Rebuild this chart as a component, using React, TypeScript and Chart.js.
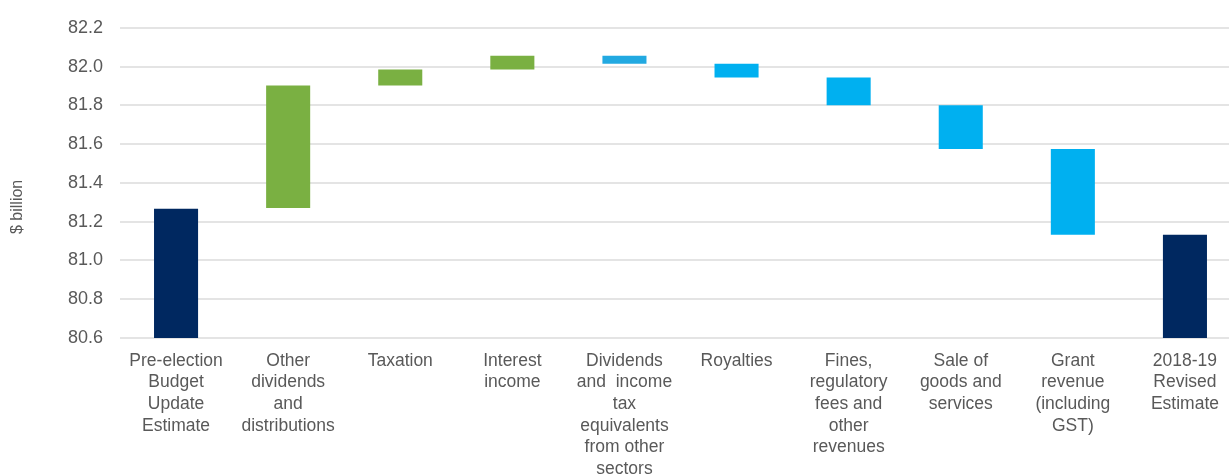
import React, { useEffect, useRef } from "react";
import { Chart, registerables } from "chart.js";

Chart.register(...registerables);

const categories: string[][] = [
  ["Pre-election", "Budget", "Update", "Estimate"],
  ["Other", "dividends", "and", "distributions"],
  ["Taxation"],
  ["Interest", "income"],
  ["Dividends", "and  income", "tax", "equivalents", "from other", "sectors"],
  ["Royalties"],
  ["Fines,", "regulatory", "fees and", "other", "revenues"],
  ["Sale of", "goods and", "services"],
  ["Grant", "revenue", "(including", "GST)"],
  ["2018-19", "Revised", "Estimate"],
];

const barStart = [80.6, 81.27, 81.903, 81.985, 82.056, 82.015, 81.944, 81.8, 81.575, 80.6];
const barEnd = [81.267, 81.903, 81.985, 82.056, 82.015, 81.944, 81.8, 81.575, 81.133, 81.133];
const barColors = [
  "#002860", "#7ab042", "#7ab042", "#7ab042", "#22a9e1",
  "#00b0f0", "#00b0f0", "#00b0f0", "#00b0f0", "#002860",
];

const yMin = 80.6;
const yMax = 82.2;
const yStep = 0.2;
const yTitle = "$ billion";

const FONT = "'Liberation Sans', Arial, sans-serif";

const yTitlePlugin = {
  id: "yTitlePlugin",
  afterDraw(chart: any) {
    const ctx = chart.ctx;
    const area = chart.chartArea;
    ctx.save();
    ctx.translate(18, (area.top + area.bottom) / 2 + 24);
    ctx.rotate(-Math.PI / 2);
    ctx.font = `16px ${FONT}`;
    ctx.fillStyle = "#595959";
    ctx.textAlign = "center";
    ctx.textBaseline = "middle";
    ctx.fillText(yTitle, 0, 0);
    ctx.restore();
  },
};

export default function App() {
  const ref = useRef<HTMLCanvasElement | null>(null);

  useEffect(() => {
    if (!ref.current) return;
    const data = barStart.map((s, i) => [s, barEnd[i]]);
    const chart = new Chart(ref.current, {
      type: "bar",
      data: {
        labels: categories,
        datasets: [
          {
            data: data as any,
            backgroundColor: barColors,
            borderWidth: 0,
            barPercentage: 1,
            categoryPercentage: 0.393,
          },
        ],
      },
      options: {
        animation: false,
        responsive: false,
        maintainAspectRatio: false,
        layout: { padding: { top: 25, right: 9, left: 0, bottom: 0 } },
        plugins: {
          legend: { display: false },
          tooltip: { enabled: false },
        },
        scales: {
          x: {
            grid: { display: false, drawTicks: false },
            border: { display: false },
            ticks: {
              color: "#595959",
              font: { family: FONT, size: 17.5, lineHeight: 1.24 },
              maxRotation: 0,
              minRotation: 0,
              autoSkip: false,
              padding: 12,
            },
            afterFit: (scale: any) => {
              scale.height = 137;
            },
          },
          y: {
            min: yMin,
            max: yMax,
            grid: { color: "#e4e4e4", lineWidth: 2, drawTicks: false },
            border: { display: false },
            ticks: {
              stepSize: yStep,
              color: "#595959",
              font: { family: FONT, size: 18 },
              padding: 17,
              callback: (v: any) => Number(v).toFixed(1),
            },
            afterFit: (scale: any) => {
              scale.width = 120;
            },
          },
        },
      },
      plugins: [yTitlePlugin],
    });
    return () => chart.destroy();
  }, []);

  return (
    <div
      style={{
        position: "fixed",
        left: 0,
        top: 0,
        width: 1229,
        height: 475,
        overflow: "hidden",
        background: "#ffffff",
      }}
    >
      <canvas ref={ref} width={1250} height={475} style={{ display: "block" }} />
    </div>
  );
}
